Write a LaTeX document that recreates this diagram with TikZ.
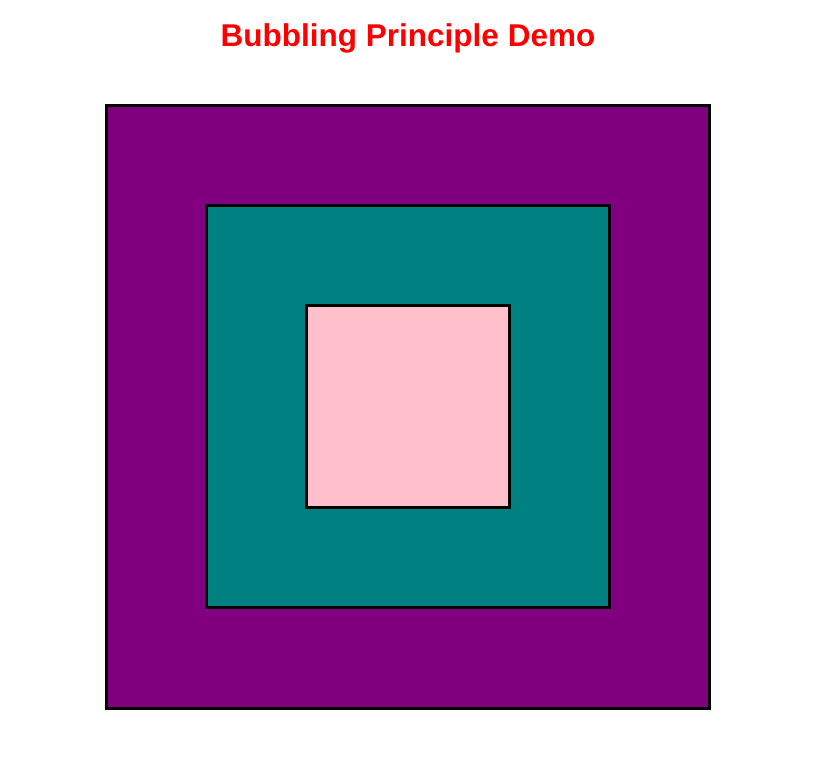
\documentclass[tikz,border=0pt]{standalone}
\usepackage{fontspec}
\setmainfont{Liberation Sans}
\usetikzlibrary{positioning}
\definecolor{bubPurple}{HTML}{800080}
\definecolor{bubTeal}{HTML}{008080}
\definecolor{bubPink}{HTML}{FFC0CB}
\definecolor{bubRed}{HTML}{FF0000}
\tikzset{
  layer/.style={draw=black, line width=2.6pt, inner sep=0pt, outer sep=0pt},
  ttl/.style={font=\fontsize{31.5}{38}\selectfont\bfseries, text=bubRed,
              inner sep=0pt, anchor=base},
}

\begin{document}
\begin{tikzpicture}[x=1pt,y=-1pt]
  \useasboundingbox (0,0) rectangle (831,779);
  \node[ttl] (title) at (408,46) {Bubbling Principle Demo};
  % nested layers, outermost first
  \node[layer,fill=bubPurple,minimum width=603pt,minimum height=603pt] (outer) at (408,407) {};
  \node[layer,fill=bubTeal,minimum width=403pt,minimum height=402pt] (middle) at (408,406.5) {};
  \node[layer,fill=bubPink,minimum width=203pt,minimum height=202pt] (inner) at (408,406.5) {};
\end{tikzpicture}
\end{document}
